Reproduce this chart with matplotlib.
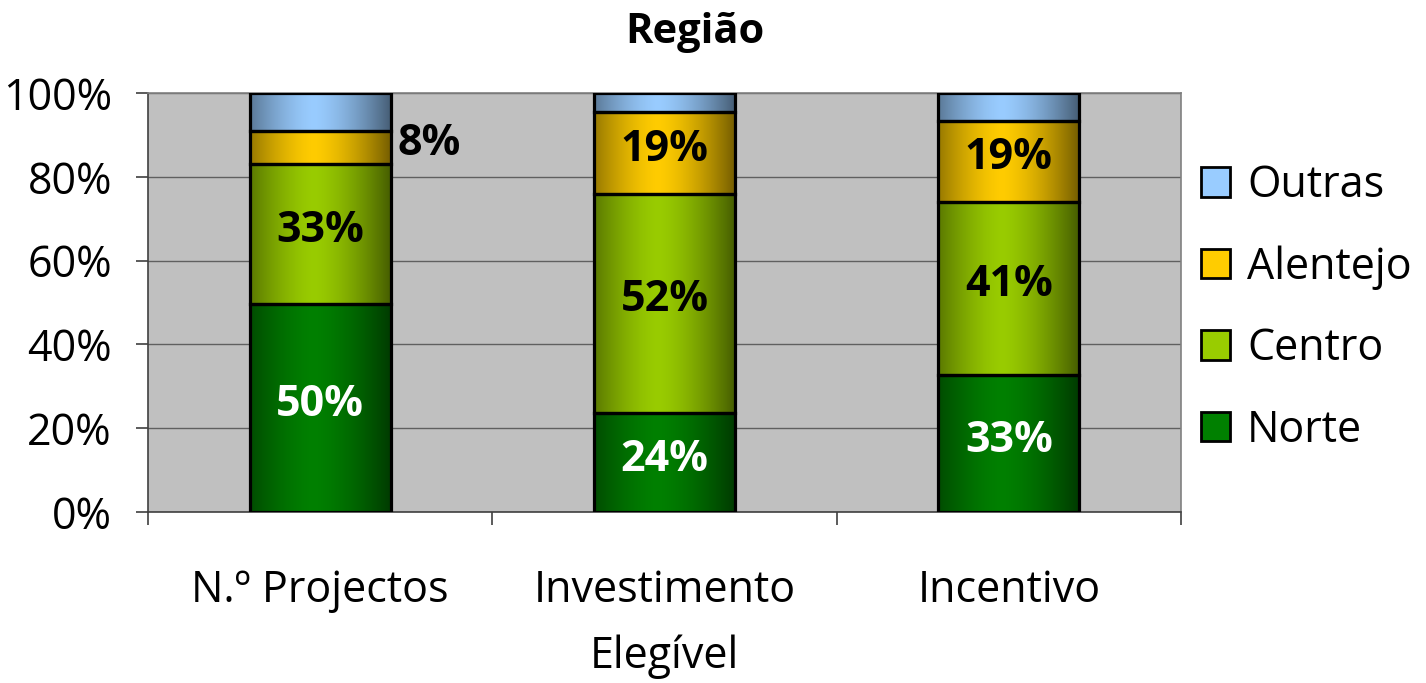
import numpy as np
import matplotlib
matplotlib.use("Agg")
import matplotlib.pyplot as plt
from matplotlib.patches import Rectangle

plt.rcParams['font.family'] = ['Open Sans', 'DejaVu Sans']

categorias = ['N.º Projectos', 'Investimento\nElegível', 'Incentivo']
regioes = ['Norte', 'Centro', 'Alentejo', 'Outras']
norte = [49.6, 23.6, 32.7]
centro = [33.4, 52.4, 41.4]
alentejo = [7.9, 19.4, 19.2]
outras = [9.1, 4.6, 6.7]
cores = ['#008000', '#99CC00', '#FFCC00', '#99CCFF']

series = [norte, centro, alentejo, outras]

fig = plt.figure(figsize=(14.26, 6.83), dpi=100)
ax = fig.add_axes([0.1038, 0.2504, 0.7244, 0.6134])
ax.set_facecolor('#C0C0C0')

x = np.arange(len(categorias))
largura = 0.41

# gradiente horizontal (escuro nas bordas)
t = np.linspace(0, 1, 200)
f = 0.45 + 0.55 * (1 - np.clip(np.abs(t - 0.45) / 0.55, 0, 1) ** 1.5)

base = np.zeros(len(categorias))
for k, (vals, cor) in enumerate(zip(series, cores)):
    rgb = np.array(matplotlib.colors.to_rgb(cor))
    grad = (f[:, None] * rgb[None, :])[None, :, :]
    for i, v in enumerate(vals):
        x0 = x[i] - largura / 2
        ax.imshow(grad, extent=(x0, x0 + largura, base[i], base[i] + v),
                  aspect='auto', zorder=2, interpolation='bilinear')
        ax.add_patch(Rectangle((x0, base[i]), largura, v, fill=False,
                               edgecolor='black', linewidth=2.3, zorder=3))
        if k < 3:
            txt = '%d%%' % round(v)
            cor_txt = 'white' if k == 0 else 'black'
            if i == 0 and k == 2:
                ax.text(x0 + largura + 0.02, base[i] + v / 2 + 1.0, txt, ha='left', va='center',
                        fontsize=31, fontweight='bold', color='black', zorder=4)
            else:
                ax.text(x[i], base[i] + v / 2 + 0.8, txt, ha='center', va='center',
                        fontsize=31, fontweight='bold', color=cor_txt, zorder=4)
    base += np.array(vals)

ax.set_xlim(-0.5, 2.5)
ax.set_ylim(0, 100)
ax.set_yticks(np.arange(0, 101, 20))
ax.set_yticklabels(['%d%%' % v for v in range(0, 101, 20)], fontsize=31)
ax.yaxis.grid(True, color='#606060', linewidth=1)
ax.set_axisbelow(True)
ax.tick_params(axis='y', length=9, width=1.2, color='#404040', pad=17)

ax.set_xticks([-0.5, 0.5, 1.5, 2.5])
ax.set_xticklabels([])
ax.set_xticks(x, minor=True)
ax.set_xticklabels(categorias, minor=True, fontsize=31, linespacing=1.62)
ax.tick_params(axis='x', which='major', length=9, width=1.2, color='#404040')
ax.tick_params(axis='x', which='minor', length=0, pad=41)
for tl in ax.get_xticklabels(minor=True):
    tl.set_verticalalignment('top')

for s in ax.spines.values():
    s.set_color('#808080')
    s.set_linewidth(1.2)
ax.spines['left'].set_color('#404040')
ax.spines['bottom'].set_color('#404040')

fig.text(0.487, 0.952, 'Região', ha='center', va='center', fontsize=30, fontweight='bold')

# legenda
handles = []
for nome, cor in zip(regioes, cores):
    handles.append(Rectangle((0, 0), 1, 1, facecolor=cor, edgecolor='black', linewidth=2))
fig.legend(handles[::-1], regioes[::-1], loc='center left', bbox_to_anchor=(0.842, 0.549),
           frameon=False, fontsize=31, handlelength=0.68, handleheight=0.68,
           labelspacing=0.86, handletextpad=0.4, borderpad=0, borderaxespad=0)

fig.savefig('out.png', dpi=100)
